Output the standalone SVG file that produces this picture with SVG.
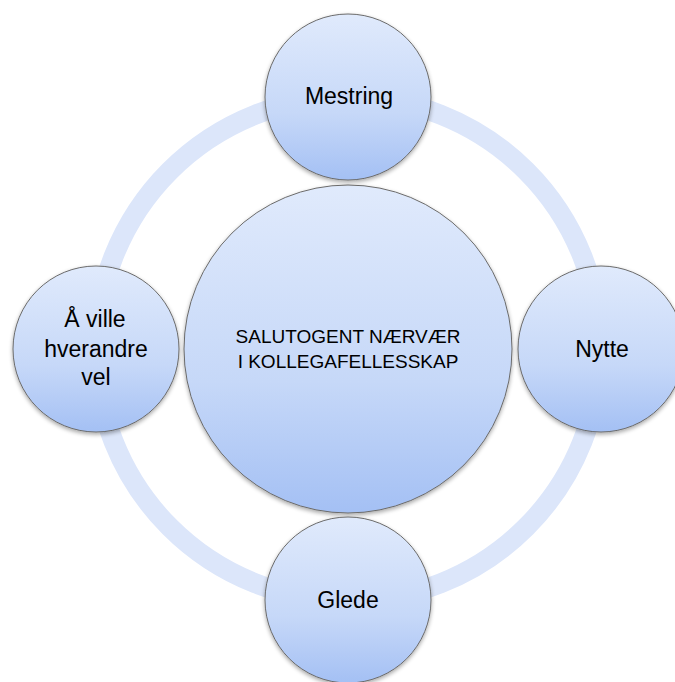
<svg xmlns="http://www.w3.org/2000/svg" width="675" height="682" viewBox="0 0 675 682">
<defs>
<linearGradient id="g" x1="0" y1="0" x2="0" y2="1">
<stop offset="0" stop-color="#e0eafc"/>
<stop offset="0.6" stop-color="#c6d8f8"/>
<stop offset="1" stop-color="#a4c0f4"/>
</linearGradient>
<filter id="sh" x="-20%" y="-20%" width="140%" height="140%">
<feGaussianBlur in="SourceAlpha" stdDeviation="2"/>
<feOffset dx="0" dy="2" result="b"/>
<feComponentTransfer><feFuncA type="linear" slope="0.35"/></feComponentTransfer>
<feMerge><feMergeNode/><feMergeNode in="SourceGraphic"/></feMerge>
</filter>
</defs>
<style>
.n{fill:url(#g);stroke:#6b6b6b;stroke-width:1;filter:url(#sh)}
.t{font-family:"Liberation Sans",Arial,sans-serif;fill:#000;text-anchor:middle}
.s{font-size:23px}
.c{font-size:19px}
</style>
<rect width="675" height="682" fill="#fff"/>
<g id="connectors">
<circle cx="348" cy="349" r="252" fill="none" stroke="#dce6fa" stroke-width="20"/>
</g>
<g id="center">
<circle class="n" cx="348" cy="349" r="164"/>
<text class="t c" x="348" y="343">SALUTOGENT NÆRVÆR</text>
<text class="t c" x="348" y="368">I KOLLEGAFELLESSKAP</text>
</g>
<g id="mestring">
<circle class="n" cx="348" cy="97" r="83"/>
<text class="t s" x="349" y="104">Mestring</text>
</g>
<g id="nytte">
<circle class="n" cx="601" cy="349" r="83"/>
<text class="t s" x="602" y="357">Nytte</text>
</g>
<g id="glede">
<circle class="n" cx="348" cy="600" r="83"/>
<text class="t s" x="348" y="608">Glede</text>
</g>
<g id="ville">
<circle class="n" cx="96" cy="349" r="83"/>
<text class="t s" x="95" y="327">Å ville</text>
<text class="t s" x="96" y="357">hverandre</text>
<text class="t s" x="96" y="385">vel</text>
</g>
</svg>
